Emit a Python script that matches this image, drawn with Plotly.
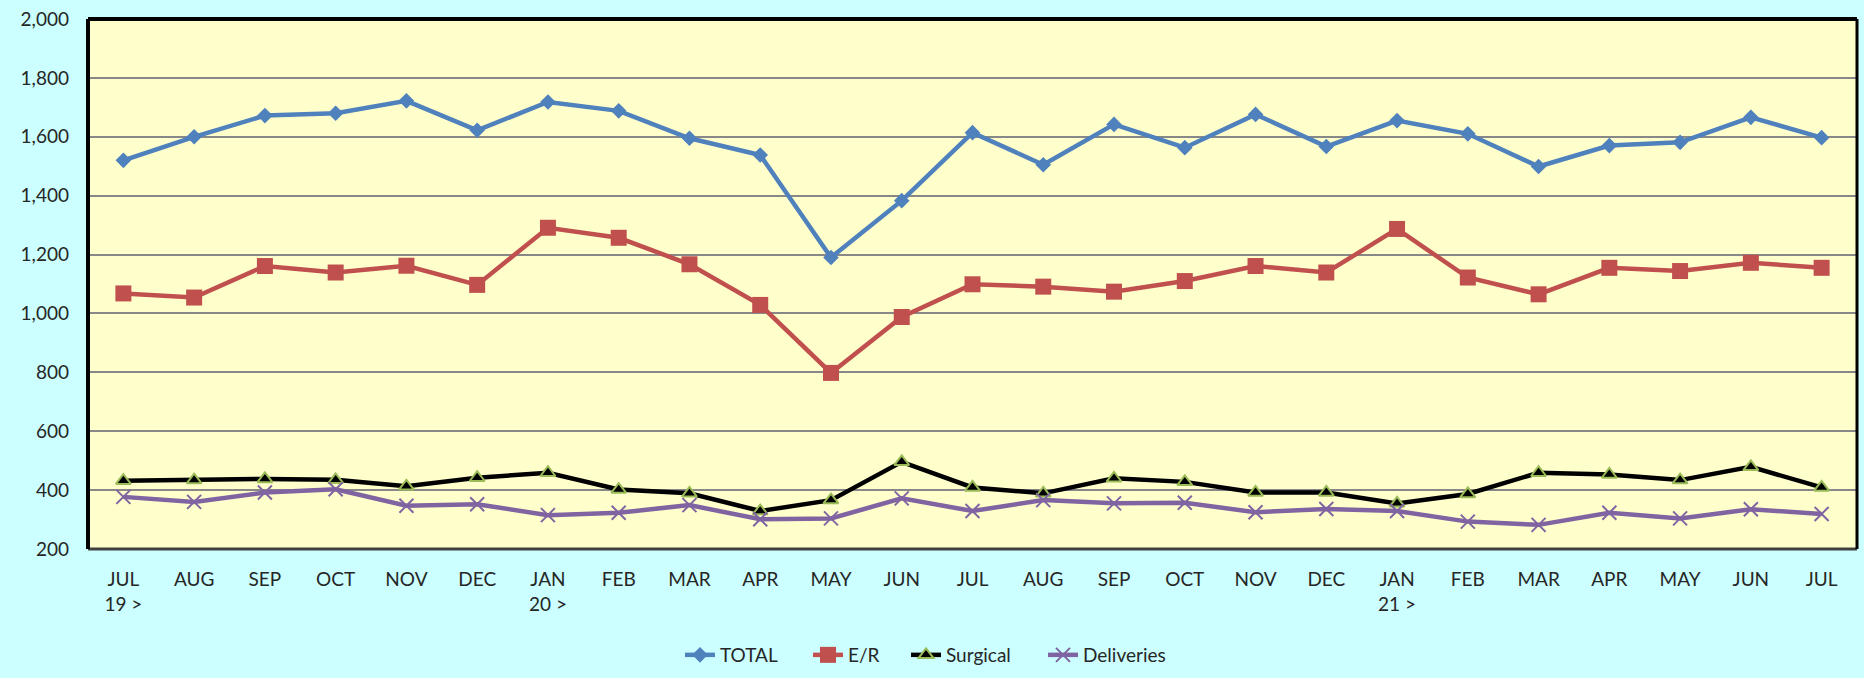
import plotly.graph_objects as go

# ---- data -------------------------------------------------------------
months = ["JUL", "AUG", "SEP", "OCT", "NOV", "DEC", "JAN", "FEB", "MAR", "APR",
          "MAY", "JUN", "JUL", "AUG", "SEP", "OCT", "NOV", "DEC", "JAN", "FEB",
          "MAR", "APR", "MAY", "JUN", "JUL"]
year_marks = ["19 >", "", "", "", "", "", "20 >", "", "", "", "", "", "", "", "",
              "", "", "", "21 >", "", "", "", "", "", ""]

total = [1520, 1600, 1672, 1680, 1722, 1622, 1718, 1688, 1595, 1538, 1190, 1383,
         1614, 1505, 1642, 1563, 1676, 1567, 1655, 1610, 1499, 1570, 1581, 1666, 1597]
er = [1068, 1054, 1161, 1139, 1162, 1097, 1291, 1257, 1167, 1029, 798, 988,
      1099, 1091, 1074, 1110, 1161, 1139, 1287, 1122, 1065, 1155, 1144, 1172, 1155]
surgical = [432, 434, 438, 435, 413, 442, 459, 402, 389, 329, 366, 496,
            409, 389, 440, 428, 392, 392, 355, 387, 459, 453, 434, 479, 409]
deliveries = [377, 360, 392, 403, 347, 352, 315, 323, 349, 301, 304, 372,
              329, 366, 355, 357, 325, 336, 329, 293, 282, 323, 304, 335, 319]

y_ticks = [200, 400, 600, 800, 1000, 1200, 1400, 1600, 1800, 2000]

# ---- figure -----------------------------------------------------------
W, H = 1864, 678
xs = list(range(len(months)))
ticktext = [m + ("<br>" + y if y else "") for m, y in zip(months, year_marks)]

FONT = "Lato"
TXT = "#262626"

fig = go.Figure()
fig.add_trace(go.Scatter(
    x=xs, y=total, name="TOTAL", mode="lines+markers", legend="legend",
    line=dict(color="#4F81BD", width=4.5),
    marker=dict(symbol="diamond", size=12, color="#4F81BD")))
fig.add_trace(go.Scatter(
    x=xs, y=er, name="E/R", mode="lines+markers", legend="legend2",
    line=dict(color="#C0504D", width=4.5),
    marker=dict(symbol="square", size=16, color="#C0504D")))
fig.add_trace(go.Scatter(
    x=xs, y=surgical, name="Surgical", mode="lines+markers", legend="legend3",
    line=dict(color="#000000", width=4.5),
    marker=dict(symbol="triangle-up", size=13, color="#000000",
                line=dict(color="#9BBB59", width=2))))
fig.add_trace(go.Scatter(
    x=xs, y=deliveries, name="Deliveries", mode="lines+markers", legend="legend4",
    line=dict(color="#8064A2", width=4.5),
    marker=dict(symbol="x-thin", size=14, color="#8064A2",
                line=dict(color="#8064A2", width=2))))


def leg(text_start_px):
    # item origin so that the legend text begins at the given pixel
    return dict(orientation="h", xref="container", yref="container",
                x=(text_start_px - 40) / W, xanchor="left",
                y=1 - 655 / H, yanchor="middle",
                font=dict(family=FONT, size=19, color=TXT),
                bgcolor="rgba(0,0,0,0)", borderwidth=0)


fig.update_layout(
    width=W, height=H,
    margin=dict(l=88, r=7, t=17, b=129),
    paper_bgcolor="#CCFFFF",
    plot_bgcolor="#FFFFCC",
    font=dict(family=FONT, size=19, color=TXT),
    showlegend=True,
    legend=leg(720), legend2=leg(848), legend3=leg(946), legend4=leg(1083),
    xaxis=dict(range=[-0.5, len(months) - 0.5], tickmode="array",
               tickvals=xs, ticktext=ticktext, showgrid=False,
               zeroline=False, showline=False, ticks="",
               ticklabelstandoff=17,
               tickfont=dict(family=FONT, size=19, color=TXT)),
    yaxis=dict(range=[200, 2000], tickmode="array", tickvals=y_ticks,
               tickformat=",d", showgrid=True, gridcolor="#888888",
               gridwidth=2, zeroline=False, showline=False, ticks="",
               ticklabelstandoff=18,
               tickfont=dict(family=FONT, size=19, color=TXT)),
    shapes=[
        dict(type="line", xref="paper", yref="paper", x0=0, x1=1, y0=0, y1=0,
             line=dict(color="#404040", width=3), layer="above"),
        dict(type="line", xref="paper", yref="paper", x0=1, x1=1, y0=0, y1=1,
             line=dict(color="#000000", width=3), layer="above"),
        dict(type="line", xref="paper", yref="paper", x0=0, x1=0, y0=0, y1=1,
             line=dict(color="#000000", width=4), layer="above"),
        dict(type="line", xref="paper", yref="paper", x0=0, x1=1, y0=1, y1=1,
             line=dict(color="#000000", width=4), layer="above"),
    ],
)

fig.write_html("out.html", config={"displayModeBar": False},
               post_script="document.body.style.margin='0';document.body.style.overflow='hidden';")
